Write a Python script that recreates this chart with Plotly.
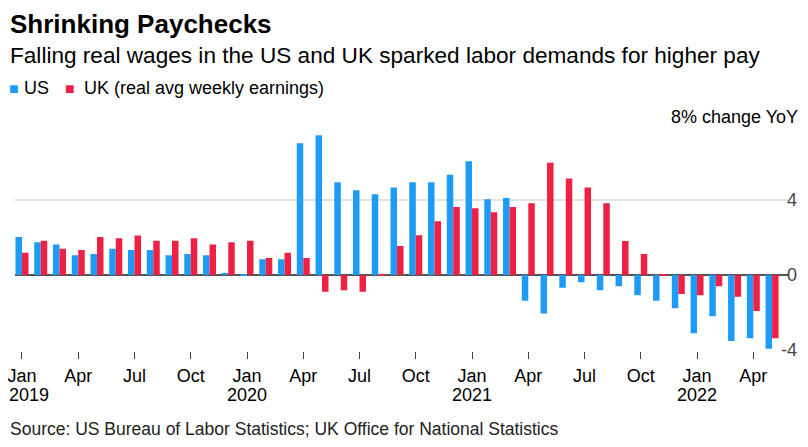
import plotly.graph_objects as go

# ---- data ----
months = [f"{y}-{m:02d}" for y in (2019, 2020, 2021, 2022) for m in range(1, 13)][:41]
us = [2.03, 1.74, 1.62, 1.05, 1.12, 1.40, 1.33, 1.33, 1.05, 1.12, 1.05, 0.09,
      -0.02, 0.84, 0.84, 7.02, 7.45, 4.94, 4.52, 4.30, 4.66, 4.94, 4.94, 5.35,
      6.06, 4.04, 4.11, -1.37, -2.06, -0.68, -0.39, -0.82, -0.60, -1.08, -1.37, -1.78,
      -3.11, -2.20, -3.52, -3.38, -3.93]
uk = [1.19, 1.83, 1.40, 1.33, 2.03, 1.96, 2.10, 1.83, 1.83, 1.96, 1.62, 1.74,
      1.83, 0.91, 1.19, 0.91, -0.89, -0.82, -0.89, -0.04, 1.55, 2.12, 2.86, 3.63,
      3.56, 3.34, 3.63, 3.82, 5.99, 5.14, 4.66, 3.82, 1.81, 1.12, -0.05, -1.01,
      -1.08, -0.60, -1.16, -1.92, -3.38]
series_names = ["US", "UK (real avg weekly earnings)"]
month_names = {1: "Jan", 4: "Apr", 7: "Jul", 10: "Oct"}
y_tickvals = [-4, 0, 4, 8]
y_ticktext = ["-4", "0", "4", "8"]
grid_vals = [4, 8]

xpos = list(range(len(months)))
month_ticks = [i for i, m in enumerate(months) if int(m[5:]) in month_names]
month_ticktext = [month_names[int(months[i][5:])] for i in month_ticks]
year_ticks = [i for i, m in enumerate(months) if m[5:] == "01"]
year_ticktext = [months[i][:4] for i in year_ticks]

BLUE = "#1e9bf6"
RED = "#ee2145"
FONT = "Liberation Sans"

# the page body adds an 8px offset; figure is sized to fill the rest of the window
OFF = 8
W, H = 808 - OFF, 447 - OFF
PLOT_TOP, PLOT_BOT, PAPER_BOT = 124.06, 350.56, 362.0     # reference-window pixels
ML, MR, MT, MB = 15 - OFF, 8, PLOT_TOP - OFF, H - (PAPER_BOT - OFF)
W_PLOT = W - ML - MR
H_PLOT = H - MT - MB
X_DOMAIN_END = (788 - 15) / W_PLOT
Y_DOMAIN_START = (PAPER_BOT - PLOT_BOT) / H_PLOT

yr = [-4.03, 8.05]
scale = (PLOT_BOT - PLOT_TOP) / (yr[1] - yr[0])          # px per unit
yr2 = [yr[1] - H_PLOT / scale, yr[1]]
xr = [-0.373, 40.85]


def px(pix):  # pixel in reference-window coordinates -> paper x
    return (pix - OFF - ML) / W_PLOT


def py(pix):  # pixel in reference-window coordinates -> paper y
    return (H - MB - (pix - OFF)) / H_PLOT


fig = go.Figure()
fig.add_trace(go.Bar(x=xpos, y=us, name=series_names[0], marker=dict(color=BLUE, line=dict(width=0))))
fig.add_trace(go.Bar(x=xpos, y=uk, name=series_names[1], marker=dict(color=RED, line=dict(width=0))))
# empty carriers for the label-only axes
fig.add_trace(go.Scatter(x=[], y=[], xaxis="x", yaxis="y2", showlegend=False, hoverinfo="skip"))
fig.add_trace(go.Scatter(x=[], y=[], xaxis="x2", yaxis="y", showlegend=False, hoverinfo="skip"))
fig.add_trace(go.Scatter(x=[], y=[], xaxis="x3", yaxis="y", showlegend=False, hoverinfo="skip"))

common_x = dict(range=xr, showgrid=False, showline=False, zeroline=False,
                tickfont=dict(size=18), automargin=False, ticklabeloverflow="allow")
fig.update_layout(
    width=W, height=H,
    margin=dict(l=ML, r=MR, t=MT, b=MB, autoexpand=False),
    paper_bgcolor="white", plot_bgcolor="rgba(0,0,0,0)",
    font=dict(family=FONT, color="#000000", size=18),
    barmode="group", bargap=0.307, bargroupgap=0,
    showlegend=False,
    xaxis=dict(domain=[0, X_DOMAIN_END], anchor="y", tickvals=month_ticks, ticktext=month_ticktext,
               ticks="outside", ticklen=7, tickcolor="#444444", tickwidth=1,
               ticklabelstandoff=2, **common_x),
    # year labels (second line); first year nudged right so it stays on the page
    xaxis2=dict(overlaying="x", anchor="y", side="bottom", tickvals=year_ticks[1:],
                ticktext=year_ticktext[1:], ticks="", ticklabelstandoff=31, **common_x),
    xaxis3=dict(overlaying="x", anchor="y", side="bottom", tickvals=year_ticks[:1],
                ticktext=year_ticktext[:1], ticks="", ticklabelstandoff=31,
                ticklabelshift=7, **common_x),
    yaxis=dict(domain=[Y_DOMAIN_START, 1], range=yr, tickvals=grid_vals, showticklabels=False,
               showgrid=True, gridcolor="#e2e2e2", gridwidth=1.5, zeroline=True,
               zerolinecolor="#555555", zerolinewidth=2, showline=False, ticks="",
               automargin=False),
    yaxis2=dict(domain=[0, 1], range=yr2, anchor="free", position=1, side="right",
                ticklabelposition="inside", tickvals=y_tickvals, ticktext=y_ticktext,
                showgrid=False, zeroline=False, showline=False, ticks="",
                tickfont=dict(size=18), automargin=False),
)

fig.add_annotation(text="<b>Shrinking Paychecks</b>", xref="paper", yref="paper",
                   x=px(OFF), y=py(7.5), xanchor="left", yanchor="top", showarrow=False,
                   font=dict(size=26, family=FONT, color="#000"))
fig.add_annotation(text="Falling real wages in the US and UK sparked labor demands for higher pay",
                   xref="paper", yref="paper", x=px(OFF), y=py(41.5), xanchor="left", yanchor="top",
                   showarrow=False, font=dict(size=22.6, family=FONT, color="#000"))
# legend (swatch + label)
legend_items = [(series_names[0], BLUE, OFF, 24), (series_names[1], RED, 64, 84)]
for name, col, sx, tx in legend_items:
    fig.add_annotation(text="■", xref="paper", yref="paper", x=px(sx), y=py(79),
                       xanchor="left", yanchor="top", showarrow=False, borderpad=0,
                       font=dict(size=16, family=FONT, color=col))
    fig.add_annotation(text=name, xref="paper", yref="paper", x=px(tx - 1), y=py(77),
                       xanchor="left", yanchor="top", showarrow=False, borderpad=0,
                       font=dict(size=18, family=FONT, color="#000"))
fig.add_annotation(text="Source: US Bureau of Labor Statistics; UK Office for National Statistics",
                   xref="paper", yref="paper", x=px(OFF), y=py(417), xanchor="left", yanchor="top",
                   showarrow=False, font=dict(size=17.5, family=FONT, color="#222"))
fig.add_annotation(text="8% change YoY", xref="paper", yref="y", x=px(801), y=8,
                   xanchor="right", yanchor="bottom", yshift=-5, showarrow=False,
                   bgcolor="white", borderpad=2, font=dict(size=18, family=FONT, color="#000"))

fig.write_html("out.html")
